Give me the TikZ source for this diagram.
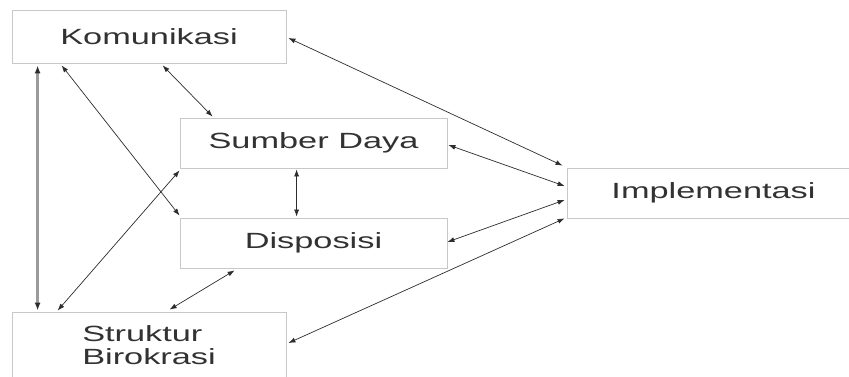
\documentclass[tikz,border=0pt]{standalone}
\usepackage{fontspec}
\usepackage{xcolor}
\usepackage{tikz}
\usetikzlibrary{arrows.meta}
\newfontfamily\boxfont[FakeStretch=1.56]{Liberation Sans}
\definecolor{boxline}{RGB}{200,200,200}
\definecolor{boxtext}{RGB}{50,50,50}
\definecolor{arrowline}{RGB}{45,45,45}
\definecolor{sideline}{RGB}{155,155,155}

\begin{document}
\begin{tikzpicture}[x=1pt,y=-1pt,
  box/.style={draw=boxline,line width=0.8pt,fill=white,text=boxtext,inner sep=0pt,
    font=\boxfont\fontsize{22}{23}\selectfont},
  link/.style={{Latex[length=7pt,width=5pt]}-{Latex[length=7pt,width=5pt]},draw=arrowline,line width=0.7pt},
  sidelink/.style={{Latex[length=8pt,width=6pt,color=arrowline]}-{Latex[length=8pt,width=6pt,color=arrowline]},draw=sideline,line width=2.5pt}]
\useasboundingbox (0,0) rectangle (849,377);
\fill [white] (0,0) rectangle (849,377);

% boxes
\node [box,minimum width=274pt,minimum height=53pt] (kom) at (149,36.5) {Komunikasi};
\node [box,minimum width=267pt,minimum height=50pt] (sd) at (313.5,143) {Sumber Daya};
\node [box,minimum width=267pt,minimum height=50pt] (disp) at (313.5,243) {Disposisi};
\node [box,minimum width=293pt,minimum height=50pt] (impl) at (713.5,193) {Implementasi};
\node [box,minimum width=274pt,minimum height=66pt,align=left] (str) at (149,345) {Struktur\\Birokrasi};

% links to Implementasi
\draw [link] ([shift={(2,1.5)}]kom.east) -- ([shift={(-4,-2)}]impl.north west);
\draw [link] ([shift={(1,2)}]sd.east) -- ([shift={(-2,-7)}]impl.west);
\draw [link] ([shift={(0,-1)}]disp.east) -- ([shift={(-2,7)}]impl.west);
\draw [link] ([shift={(2,-2)}]str.east) -- ([shift={(-2,0)}]impl.south west);

% links between the factors
\draw [sidelink] ([shift={(26,2)}]kom.south west) -- ([shift={(26,-1)}]str.north west);
\draw [link] ([shift={(50,2)}]kom.south west) -- ([shift={(0,-2)}]disp.north west);
\draw [link] ([shift={(151,2)}]kom.south west) -- ([shift={(33,-1)}]sd.north west);
\draw [link] ([shift={(117,1)}]sd.south west) -- ([shift={(117,-1)}]disp.north west);
\draw [link] ([shift={(46,-1)}]str.north west) -- ([shift={(0,2)}]sd.south west);
\draw [link] ([shift={(158,-2)}]str.north west) -- ([shift={(55,2)}]disp.south west);
\end{tikzpicture}
\end{document}
